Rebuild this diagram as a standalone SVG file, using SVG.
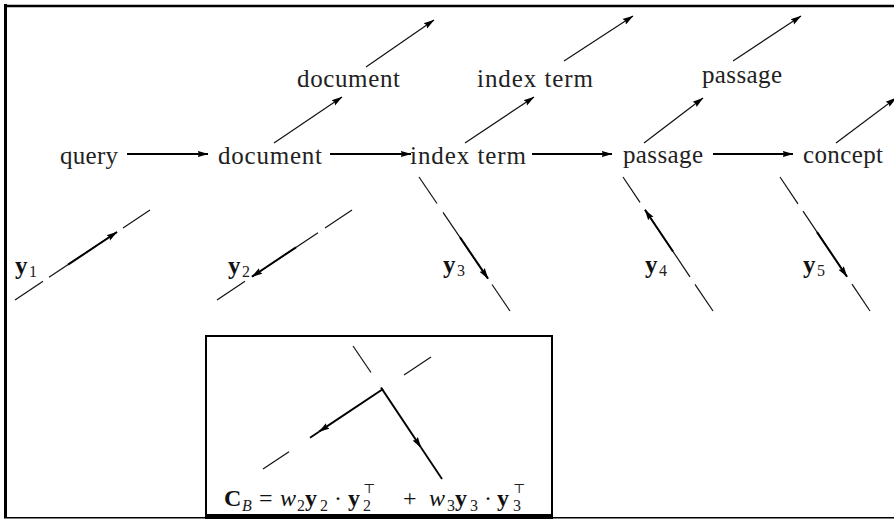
<svg xmlns="http://www.w3.org/2000/svg" width="894" height="519" viewBox="0 0 894 519">
<style>
.lbl{font-family:"Liberation Serif","DejaVu Serif",serif;font-size:25px;fill:#222;}
.vb{font-family:"Liberation Serif","DejaVu Serif",serif;font-size:25px;font-weight:bold;fill:#111;}
.sub{font-family:"Liberation Serif","DejaVu Serif",serif;font-size:16px;fill:#222;}
.sup{font-family:"DejaVu Serif","Liberation Serif",serif;font-size:13px;fill:#222;}
.math{font-family:"Liberation Serif","DejaVu Serif",serif;font-size:24px;fill:#111;}
.it{font-style:italic;}
.bf{font-weight:bold;}
.frame{fill:none;stroke:#000;}
.h{stroke:#000;stroke-width:2.2;fill:none;marker-end:url(#ah);}
.d{stroke:#111;stroke-width:1.2;fill:none;marker-end:url(#ahs);}
.dash{stroke:#111;stroke-width:1.2;fill:none;}
.va{stroke:#000;stroke-width:2;fill:none;marker-end:url(#ahs);}
.vp{stroke:#000;stroke-width:1.8;fill:none;}
</style>
<defs>
<marker id="ah" markerUnits="userSpaceOnUse" markerWidth="11" markerHeight="8" viewBox="0 0 11 8" refX="10.5" refY="4" orient="auto"><path d="M0,0.8 L11,4 L0,7.2 L1.5,4 z" fill="#000"/></marker>
<marker id="ahs" markerUnits="userSpaceOnUse" markerWidth="11" markerHeight="8" viewBox="0 0 11 8" refX="10.5" refY="4" orient="auto"><path d="M0,0.8 L11,4 L0,7.2 L1.5,4 z" fill="#000"/></marker>
</defs>
<rect x="0" y="0" width="894" height="519" fill="#fff"/>
<g id="frame">
<line class="frame" x1="5.5" y1="4" x2="5.5" y2="518" stroke-width="3"/>
<line class="frame" x1="4" y1="6" x2="894" y2="6" stroke-width="2.5"/>
<line class="frame" x1="4" y1="517.8" x2="894" y2="517.8" stroke-width="1.5"/>
</g>

<g id="node-query"><text class="lbl" x="60" y="164" textLength="58">query</text></g>
<g id="node-document"><text class="lbl" x="218" y="164" textLength="104">document</text></g>
<g id="node-indexterm"><text class="lbl" x="410" y="164" textLength="116">index term</text></g>
<g id="node-passage"><text class="lbl" x="623" y="163" textLength="80">passage</text></g>
<g id="node-concept"><text class="lbl" x="803" y="163" textLength="80">concept</text></g>
<g id="node-document-top"><text class="lbl" x="297" y="87" textLength="103">document</text></g>
<g id="node-indexterm-top"><text class="lbl" x="477" y="87" textLength="116">index term</text></g>
<g id="node-passage-top"><text class="lbl" x="702" y="83" textLength="80">passage</text></g>

<g id="node-y1"><text class="vb" x="15" y="274">y</text><text class="sub" x="29" y="277">1</text></g>
<g id="node-y2"><text class="vb" x="228" y="274">y</text><text class="sub" x="242" y="277">2</text></g>
<g id="node-y3"><text class="vb" x="443" y="273">y</text><text class="sub" x="457" y="276">3</text></g>
<g id="node-y4"><text class="vb" x="645" y="273">y</text><text class="sub" x="659" y="276">4</text></g>
<g id="node-y5"><text class="vb" x="803" y="273">y</text><text class="sub" x="817" y="276">5</text></g>

<g id="connectors">
<line class="h" x1="127" y1="154" x2="208" y2="154"/>
<line class="h" x1="330" y1="154" x2="411" y2="154"/>
<line class="h" x1="532" y1="154" x2="612" y2="154"/>
<line class="h" x1="713" y1="154" x2="793" y2="154"/>
<line class="d" x1="274" y1="143" x2="342" y2="97"/>
<line class="d" x1="366" y1="67" x2="434" y2="20"/>
<line class="d" x1="465" y1="143" x2="534" y2="97"/>
<line class="d" x1="564" y1="61" x2="633" y2="16"/>
<line class="d" x1="644" y1="143" x2="703" y2="98"/>
<line class="d" x1="733" y1="61" x2="801" y2="16"/>
<line class="d" x1="836" y1="143" x2="896" y2="98"/>
</g>

<g id="vectors">
<line class="dash" x1="15" y1="300" x2="43" y2="281.3"/>
<line class="dash" x1="49" y1="277.3" x2="117" y2="232"/>
<line class="dash" x1="123" y1="228" x2="150" y2="210"/>
<line class="va" x1="68" y1="264.7" x2="117" y2="232"/>
<line class="dash" x1="217" y1="300" x2="245" y2="281.3"/>
<line class="dash" x1="252" y1="276.7" x2="318" y2="232.7"/>
<line class="dash" x1="325" y1="228" x2="352" y2="210"/>
<line class="va" x1="296" y1="247.3" x2="252" y2="276.7"/>
<line class="dash" x1="419" y1="177" x2="437" y2="203.5"/>
<line class="dash" x1="443" y1="212.3" x2="488" y2="278.6"/>
<line class="dash" x1="492" y1="284.5" x2="510" y2="311"/>
<line class="va" x1="460" y1="237.4" x2="488" y2="278.6"/>
<line class="dash" x1="623" y1="177" x2="640" y2="202.3"/>
<line class="dash" x1="645" y1="209.8" x2="690" y2="276.8"/>
<line class="dash" x1="695" y1="284.3" x2="713" y2="311"/>
<line class="va" x1="673" y1="251.5" x2="645" y2="209.8"/>
<line class="dash" x1="780" y1="177" x2="798" y2="203.8"/>
<line class="dash" x1="803" y1="211.2" x2="847" y2="276.7"/>
<line class="dash" x1="852" y1="284.2" x2="870" y2="311"/>
<line class="va" x1="817" y1="232.1" x2="847" y2="276.7"/>
</g>

<g id="node-CB">
<line class="frame" x1="206" y1="335" x2="206" y2="519" stroke-width="2"/>
<line class="frame" x1="205" y1="336" x2="553" y2="336" stroke-width="2"/>
<line class="frame" x1="552" y1="335" x2="552" y2="519" stroke-width="2"/>
<line class="frame" x1="205" y1="516.5" x2="553" y2="516.5" stroke-width="5"/>
<line class="dash" x1="353" y1="346" x2="371" y2="372.5"/>
<line class="dash" x1="431" y1="357" x2="404" y2="375"/>
<line class="dash" x1="289" y1="451.7" x2="263" y2="469"/>
<line class="va" x1="383" y1="389" x2="319" y2="431.7"/>
<line class="vp" x1="319" y1="431.7" x2="310" y2="437.7" stroke-width="1.3"/>
<line class="va" x1="381" y1="387.5" x2="421" y2="447.5" stroke-width="1.6"/>
<line class="vp" x1="421" y1="447.5" x2="442" y2="479" stroke-width="1.6"/>
<text class="math" y="506"><tspan class="bf" x="224">C</tspan><tspan class="sub it" x="242" y="511">B</tspan><tspan x="259" y="506">=</tspan><tspan class="it" x="280">w</tspan><tspan class="sub" x="297" y="511">2</tspan><tspan class="bf" x="305" y="506">y</tspan><tspan class="sub" x="320" y="511">2</tspan><tspan x="334" y="506">·</tspan><tspan class="bf" x="348">y</tspan><tspan class="sub" x="363" y="511">2</tspan><tspan x="403" y="506">+</tspan><tspan class="it" x="429">w</tspan><tspan class="sub" x="447" y="511">3</tspan><tspan class="bf" x="455" y="506">y</tspan><tspan class="sub" x="470" y="511">3</tspan><tspan x="484" y="506">·</tspan><tspan class="bf" x="497">y</tspan><tspan class="sub" x="513" y="511">3</tspan></text>
<text class="sup" x="363" y="493">⊤</text>
<text class="sup" x="513" y="493">⊤</text>
</g>
</svg>
